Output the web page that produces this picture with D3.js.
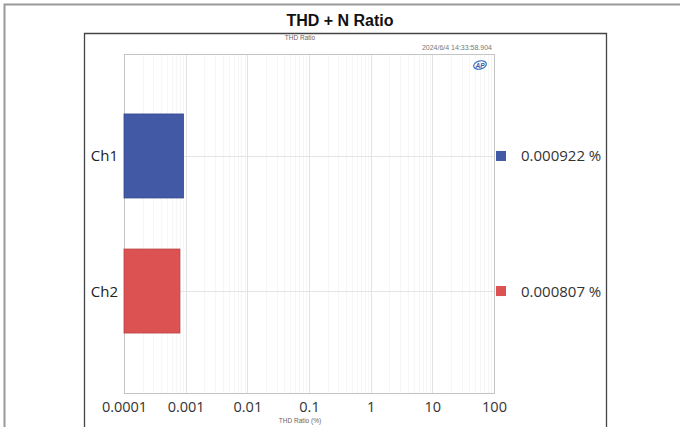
<!DOCTYPE html>
<html>
<head>
<meta charset="utf-8">
<script src="https://cdn.jsdelivr.net/npm/d3@7/dist/d3.min.js"></script>
<style>
  html, body { margin: 0; padding: 0; background: #fff; }
  svg { display: block; }
</style>
</head>
<body>
<svg id="chart" width="680" height="427"></svg>
<script>
// ---- data ----
const categories = ["Ch1", "Ch2"];
const values = [0.000922, 0.000807];
const legendLabels = ["0.000922 %", "0.000807 %"];
const tickValues = [0.0001, 0.001, 0.01, 0.1, 1, 10, 100];
const tickLabels = ["0.0001", "0.001", "0.01", "0.1", "1", "10", "100"];
const chartTitle = "THD + N Ratio";
const innerTitle = "THD Ratio";
const timestamp = "2024/6/4 14:33:58.904";
const axisTitle = "THD Ratio (%)";

// ---- drawing ----
const svg = d3.select("#chart");
const font = "'Open Sans', 'Noto Sans', sans-serif";
const plot = { left: 124, right: 494, top: 54, bottom: 393 };

const x = d3.scaleLog().domain([0.0001, 100]).range([plot.left, plot.right]);
const y = d3.scaleBand().domain(categories).range([plot.top, plot.bottom])
  .paddingInner(0.378).paddingOuter(0.444);
const color = d3.scaleOrdinal().domain(categories).range(["#4259a6", "#dc5252"]);
const strokeColor = d3.scaleOrdinal().domain(categories).range(["#34488c", "#b94343"]);

// outer frame (left + top only visible)
svg.append("path")
  .attr("d", "M4.5,427 L4.5,4.5 L680,4.5")
  .attr("fill", "none").attr("stroke", "#9a9a9a").attr("stroke-width", 2);

// title
svg.append("text").attr("x", 340).attr("y", 26).attr("text-anchor", "middle")
  .attr("font-family", "'Liberation Sans', Arial, sans-serif").attr("font-weight", "bold")
  .attr("font-size", 16).attr("fill", "#111").text(chartTitle);

// inner frame
svg.append("path")
  .attr("d", "M84.5,427 L84.5,33.5 L606.5,33.5 L606.5,427")
  .attr("fill", "none").attr("stroke", "#444").attr("stroke-width", 1.3);

// small header texts
svg.append("text").attr("x", 300).attr("y", 40).attr("text-anchor", "middle")
  .attr("font-family", "'Liberation Sans', Arial, sans-serif").attr("font-size", 6.5)
  .attr("fill", "#666").text(innerTitle);
svg.append("text").attr("x", 492).attr("y", 50).attr("text-anchor", "end")
  .attr("font-family", "'Liberation Sans', Arial, sans-serif").attr("font-size", 7)
  .attr("fill", "#777").text(timestamp);

// minor vertical gridlines
const minor = [];
for (let e = -4; e < 2; e++) for (let m = 2; m <= 9; m++) minor.push(m * Math.pow(10, e));
svg.append("g").selectAll("line").data(minor).join("line")
  .attr("x1", d => Math.round(x(d)) + 0.5).attr("x2", d => Math.round(x(d)) + 0.5)
  .attr("y1", plot.top).attr("y2", plot.bottom)
  .attr("stroke", "#f6f6f6").attr("stroke-width", 1);

// major vertical gridlines
svg.append("g").selectAll("line").data(tickValues).join("line")
  .attr("x1", d => Math.round(x(d)) + 0.5).attr("x2", d => Math.round(x(d)) + 0.5)
  .attr("y1", plot.top).attr("y2", plot.bottom)
  .attr("stroke", "#e2e2e2").attr("stroke-width", 1);

// horizontal gridlines at category centers
svg.append("g").selectAll("line").data(categories).join("line")
  .attr("x1", plot.left).attr("x2", plot.right)
  .attr("y1", d => Math.round(y(d) + y.bandwidth() / 2) + 0.5)
  .attr("y2", d => Math.round(y(d) + y.bandwidth() / 2) + 0.5)
  .attr("stroke", "#e4e4e4").attr("stroke-width", 1);

// plot border
svg.append("rect")
  .attr("x", plot.left + 0.5).attr("y", plot.top + 0.5)
  .attr("width", plot.right - plot.left).attr("height", plot.bottom - plot.top)
  .attr("fill", "none").attr("stroke", "#c4c4c4").attr("stroke-width", 1);

// AP logo
const logo = svg.append("g").attr("transform", "translate(480,65)");
logo.append("ellipse").attr("rx", 6.5).attr("ry", 4).attr("fill", "none")
  .attr("stroke", "#3a6fc0").attr("stroke-width", 1.2).attr("transform", "rotate(-15)");
logo.append("text").attr("x", 0).attr("y", 2.5).attr("text-anchor", "middle")
  .attr("font-family", "'Liberation Sans', Arial, sans-serif").attr("font-size", 6.5)
  .attr("font-weight", "bold").attr("font-style", "italic").attr("fill", "#2e5fb0").text("AP");

// bars
svg.append("g").selectAll("rect").data(categories).join("rect")
  .attr("x", x(0.0001))
  .attr("y", d => y(d))
  .attr("width", (d, i) => x(values[i]) - x(0.0001))
  .attr("height", y.bandwidth())
  .attr("fill", d => color(d))
  .attr("stroke", d => strokeColor(d)).attr("stroke-width", 0.8);

// category labels
svg.append("g").selectAll("text").data(categories).join("text")
  .attr("x", 118).attr("y", d => y(d) + y.bandwidth() / 2 + 5.5)
  .attr("text-anchor", "end").attr("font-family", font).attr("font-size", 15)
  .attr("fill", "#222").text(d => d);

// legend
const leg = svg.append("g").selectAll("g").data(categories).join("g")
  .attr("transform", d => `translate(496,${y(d) + y.bandwidth() / 2})`);
leg.append("rect").attr("x", 0).attr("y", -5).attr("width", 10).attr("height", 10)
  .attr("fill", d => color(d));
leg.append("text").attr("x", 25).attr("y", 5.5).attr("font-family", font)
  .attr("font-size", 15).attr("fill", "#333").text((d, i) => legendLabels[i]);

// x axis labels
const axis = d3.axisBottom(x).tickValues(tickValues)
  .tickFormat((d, i) => tickLabels[i]).tickSize(0).tickPadding(0);
const ax = svg.append("g").attr("transform", `translate(0,${plot.bottom})`).call(axis);
ax.select(".domain").remove();
ax.selectAll("text").attr("font-family", font).attr("font-size", 14.5)
  .attr("fill", "#333").attr("dy", 0).attr("y", 19);

// axis title
svg.append("text").attr("x", 300).attr("y", 423).attr("text-anchor", "middle")
  .attr("font-family", "'Liberation Sans', Arial, sans-serif").attr("font-size", 6.5)
  .attr("fill", "#666").text(axisTitle);
</script>
</body>
</html>
